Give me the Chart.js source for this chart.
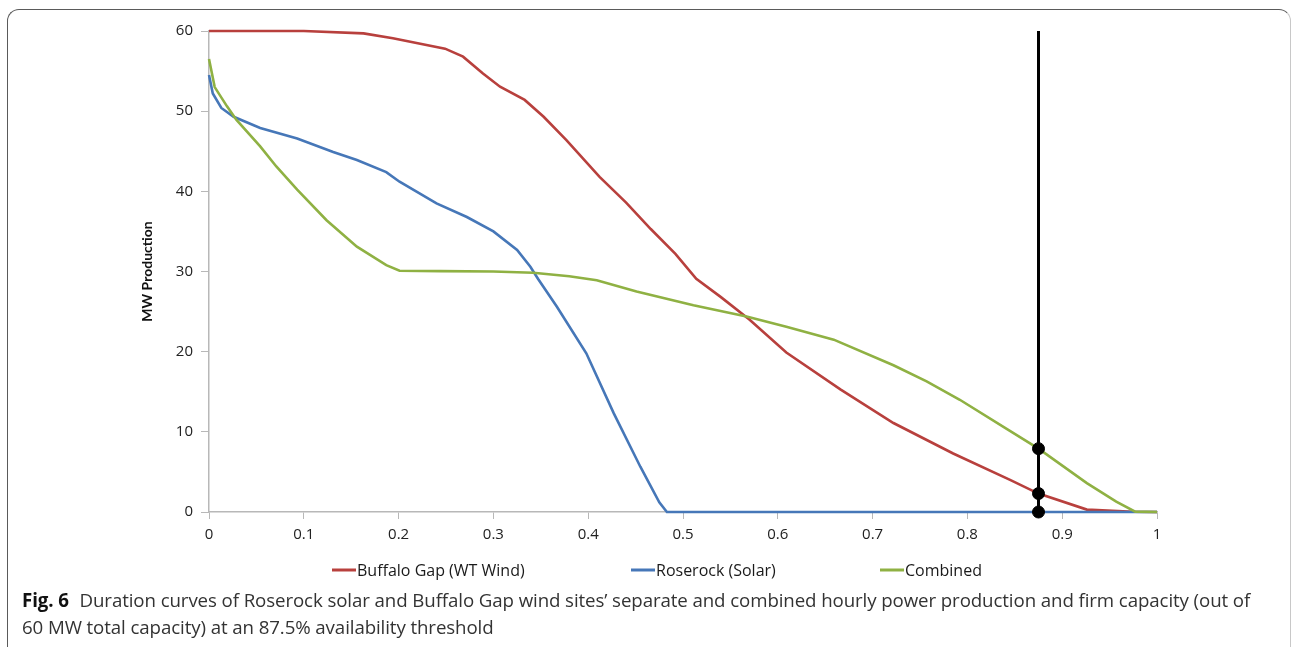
<!DOCTYPE html>
<html>
<head>
<meta charset="utf-8">
<script src="https://cdn.jsdelivr.net/npm/chart.js@4"></script>
<style>
  html, body { margin: 0; padding: 0; background: #fff; }
  body { width: 1292px; height: 647px; position: relative; overflow: hidden; }
  .frame {
    position: absolute; left: 7px; top: 9px; width: 1282px; height: 660px;
    border: 1px solid #5a5a5a; border-right-color: #c8c8c8; border-radius: 12px;
  }
  #chart { position: absolute; left: 0; top: 0; }
  .caption {
    position: absolute; left: 22px; top: 586px;
    font-family: "Open Sans", Lato, sans-serif; font-size: 18.7px; line-height: 27px;
    color: #333; white-space: nowrap; letter-spacing: -0.1px;
  }
  .caption b { color: #111; margin-right: 6px; }
</style>
</head>
<body>
<div class="frame"></div>
<canvas id="chart" width="1292" height="590"></canvas>
<div class="caption"><b>Fig. 6</b> Duration curves of Roserock solar and Buffalo Gap wind sites’ separate and combined hourly power production and firm capacity (out of<br>60 MW total capacity) at an 87.5% availability threshold</div>
<script>
// duration curves (x = fraction of hours, y = MW)
const windX = [0, 0.10, 0.163, 0.194, 0.249, 0.268, 0.289, 0.307, 0.333, 0.353, 0.377, 0.412, 0.44, 0.466, 0.492, 0.514, 0.54, 0.57, 0.609, 0.666, 0.722, 0.785, 0.845, 0.875, 0.926, 0.975, 1];
const windMW = [60, 60, 59.7, 59.1, 57.8, 56.8, 54.7, 53.05, 51.4, 49.3, 46.4, 41.8, 38.6, 35.3, 32.2, 29.1, 26.8, 24.0, 19.9, 15.3, 11.1, 7.3, 4.0, 2.3, 0.3, 0.04, 0];

const solarX = [0, 0.004, 0.013, 0.026, 0.054, 0.093, 0.131, 0.156, 0.187, 0.201, 0.24, 0.272, 0.30, 0.325, 0.339, 0.347, 0.367, 0.398, 0.427, 0.455, 0.475, 0.483, 1];
const solarMW = [54.5, 52.2, 50.4, 49.3, 47.9, 46.6, 44.9, 43.9, 42.4, 41.2, 38.5, 36.8, 35.0, 32.7, 30.6, 29.1, 25.6, 19.8, 12.3, 5.65, 1.2, 0, 0];

const combinedX = [0, 0.006, 0.019, 0.029, 0.054, 0.071, 0.093, 0.124, 0.156, 0.187, 0.201, 0.244, 0.30, 0.342, 0.38, 0.409, 0.451, 0.511, 0.567, 0.609, 0.659, 0.722, 0.757, 0.792, 0.841, 0.875, 0.926, 0.957, 0.977, 1];
const combinedMW = [56.5, 53, 50.6, 48.9, 45.6, 43.1, 40.2, 36.4, 33.1, 30.8, 30.1, 30.05, 30.0, 29.85, 29.4, 28.9, 27.5, 25.8, 24.4, 23.1, 21.5, 18.3, 16.3, 14.0, 10.4, 7.9, 3.6, 1.3, 0.05, 0];

// 87.5% availability threshold and firm capacities
const thresholdX = 0.875;
const thresholdTop = 60;
const firmMW = [0, 2.3, 7.9];

const seriesNames = ['Buffalo Gap (WT Wind)', 'Roserock (Solar)', 'Combined'];
const xTicks = [0, 0.1, 0.2, 0.3, 0.4, 0.5, 0.6, 0.7, 0.8, 0.9, 1];
const yTicks = [0, 10, 20, 30, 40, 50, 60];

function toPoints(xs, ys) {
  return xs.map((x, i) => ({ x: x, y: ys[i] }));
}

// legend drawn by hand so the item spacing can match the figure
const lineLegend = {
  id: 'lineLegend',
  afterDraw(chart, args, opts) {
    const ctx = chart.ctx;
    ctx.save();
    ctx.font = opts.font;
    ctx.textBaseline = 'middle';
    chart.data.datasets.forEach((ds, i) => {
      const x = opts.startX[i];
      if (x === undefined) return;
      ctx.strokeStyle = ds.borderColor;
      ctx.lineWidth = 3;
      ctx.beginPath();
      ctx.moveTo(x, opts.y);
      ctx.lineTo(x + opts.boxWidth, opts.y);
      ctx.stroke();
      ctx.fillStyle = '#1a1a1a';
      ctx.fillText(ds.label, x + opts.boxWidth + 1, opts.y + 1);
    });
    ctx.restore();
  }
};

const axisGrey = '#b8b8b8';

new Chart(document.getElementById('chart'), {
  type: 'line',
  data: {
    datasets: [
      {
        label: seriesNames[0],
        data: toPoints(windX, windMW),
        borderColor: '#b8403d',
        borderWidth: 2.6,
        pointRadius: 0,
        order: 4
      },
      {
        label: seriesNames[1],
        data: toPoints(solarX, solarMW),
        borderColor: '#4677b8',
        borderWidth: 2.6,
        pointRadius: 0,
        order: 3
      },
      {
        label: seriesNames[2],
        data: toPoints(combinedX, combinedMW),
        borderColor: '#8fb143',
        borderWidth: 2.6,
        pointRadius: 0,
        order: 2
      },
      {
        label: 'threshold',
        data: [{ x: thresholdX, y: 0 }, { x: thresholdX, y: thresholdTop }],
        borderColor: '#000',
        borderWidth: 3,
        pointRadius: 0,
        order: 1
      },
      {
        label: 'firm',
        data: firmMW.map(v => ({ x: thresholdX, y: v })),
        showLine: false,
        pointRadius: 6,
        pointBackgroundColor: '#000',
        pointBorderColor: '#000',
        order: 0
      }
    ]
  },
  options: {
    responsive: false,
    animation: false,
    clip: false,
    layout: { padding: { left: 130, right: 135, top: 31, bottom: 38 } },
    scales: {
      x: {
        type: 'linear',
        min: 0,
        max: 1,
        afterBuildTicks: s => { s.ticks = xTicks.map(v => ({ value: v })); },
        afterFit: s => { s.height = 40; },
        border: { color: axisGrey, width: 1.5 },
        grid: { drawOnChartArea: false, tickLength: 7, color: axisGrey },
        ticks: {
          padding: 7,
          color: '#222',
          font: { family: 'Open Sans', size: 15 },
          maxRotation: 0,
          callback: v => String(v)
        }
      },
      y: {
        min: 0,
        max: 60,
        afterBuildTicks: s => { s.ticks = yTicks.map(v => ({ value: v })); },
        afterFit: s => { s.width = 79; },
        border: { color: axisGrey, width: 1.5 },
        grid: { drawOnChartArea: false, tickLength: 8, color: axisGrey },
        ticks: {
          padding: 8,
          color: '#222',
          font: { family: 'Open Sans', size: 15 }
        },
        title: {
          display: true,
          text: 'MW Production',
          color: '#111',
          padding: { top: 9, bottom: 0 },
          font: { family: 'Lato', size: 14, weight: 'bold' }
        }
      }
    },
    plugins: {
      legend: { display: false },
      tooltip: { enabled: false },
      lineLegend: {
        startX: [332, 631, 880],
        y: 570,
        boxWidth: 24,
        font: '16px "Open Sans"'
      }
    }
  },
  plugins: [lineLegend]
});
</script>
</body>
</html>
